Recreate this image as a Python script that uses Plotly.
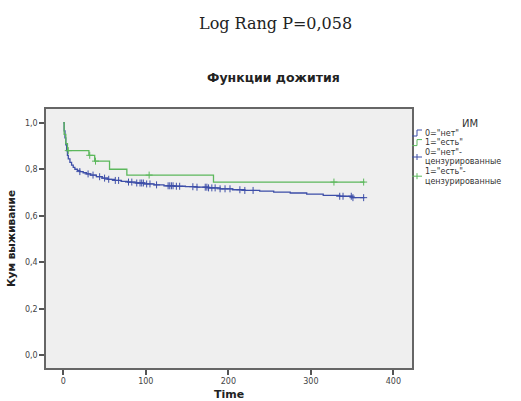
import plotly.graph_objects as go

# Kaplan-Meier step data for the two groups (time, cumulative survival)
no_mi_times = [0, 1, 2, 3, 4, 5, 6, 8, 10, 12, 14, 17, 20, 24, 28, 33, 40, 47, 54, 62, 70, 78,
               88, 98, 110, 122, 134, 148, 162, 176, 190, 205, 220, 238, 255, 275, 295, 315, 335, 350]
no_mi_surv = [1.0, 0.965, 0.935, 0.905, 0.88, 0.86, 0.845, 0.83, 0.818, 0.808, 0.80, 0.795, 0.79,
              0.785, 0.78, 0.775, 0.768, 0.762, 0.757, 0.752, 0.748, 0.745, 0.741, 0.737, 0.733,
              0.729, 0.727, 0.725, 0.723, 0.72, 0.716, 0.712, 0.709, 0.706, 0.702, 0.698, 0.693,
              0.688, 0.684, 0.678]
no_mi_censored = [20, 30, 36, 44, 50, 55, 63, 67, 79, 83, 89, 93, 95, 97, 101, 105, 113, 127, 129,
                  131, 133, 137, 141, 157, 162, 172, 174, 176, 180, 184, 190, 196, 202, 214, 220,
                  230, 335, 339, 349, 351, 364]

mi_times = [0, 1, 3, 5, 31, 38, 56, 77, 182]
mi_surv = [1.0, 0.95, 0.91, 0.88, 0.86, 0.835, 0.80, 0.775, 0.745]
mi_censored = [6, 32, 39, 104, 328, 364]

follow_up_end = 365

x_ticks = [0, 100, 200, 300, 400]
y_ticks = [0.0, 0.2, 0.4, 0.6, 0.8, 1.0]

BLUE = "#3d4ea8"
GREEN = "#5cb85c"
FONT = "DejaVu Sans"


def surv_at(times, surv, t):
    val = surv[0]
    for ti, si in zip(times, surv):
        if ti <= t:
            val = si
    return val


fig = go.Figure()

for times, surv, cens, color in [
    (no_mi_times, no_mi_surv, no_mi_censored, BLUE),
    (mi_times, mi_surv, mi_censored, GREEN),
]:
    fig.add_trace(go.Scatter(
        x=times + [follow_up_end], y=surv + [surv[-1]],
        mode="lines", line=dict(color=color, width=1.3, shape="hv"),
        showlegend=False, hoverinfo="skip"))
    fig.add_trace(go.Scatter(
        x=cens, y=[surv_at(times, surv, t) for t in cens],
        mode="markers",
        marker=dict(symbol="cross-thin", size=5, line=dict(color=color, width=1)),
        showlegend=False, hoverinfo="skip"))

# plot area in pixels
L, R, T, B = 46, 412, 109, 368


def px(x):
    return (x - L) / (R - L)


def py(y):
    return (B - y) / (B - T)


annotations = [
    dict(text="Log Rang P=0,058", x=px(275), y=py(23), xref="paper", yref="paper",
         yanchor="middle", showarrow=False,
         font=dict(family="DejaVu Serif", size=16, color="#222")),
    dict(text="<b>Функции дожития</b>", x=px(273), y=py(77), xref="paper", yref="paper",
         yanchor="middle", showarrow=False, font=dict(family=FONT, size=12.5, color="#222")),
    dict(text="ИМ", x=px(480), y=py(123), xref="paper", yref="paper",
         yanchor="middle", showarrow=False, font=dict(family=FONT, size=10, color="#333")),
]

# legend: (text lines with their centres), glyph centre, colour, glyph kind
legend_rows = [
    ([('0="нет"', 133.0)], 133.0, BLUE, "step"),
    ([('1="есть"', 142.6)], 142.6, GREEN, "step"),
    ([('0="нет"-', 152.2), ("цензурированные", 161.8)], 157.0, BLUE, "cens"),
    ([('1="есть"-', 171.4), ("цензурированные", 181.0)], 176.2, GREEN, "cens"),
]

shapes = []
for lines, yc, color, kind in legend_rows:
    for text, yl in lines:
        annotations.append(dict(
            text=text, x=px(424), y=py(yl), xref="paper", yref="paper", xanchor="left",
            yanchor="middle", showarrow=False, borderpad=0,
            font=dict(family=FONT, size=8, color="#333")))
    if kind == "step":
        path = "M {} {} L {} {} L {} {} L {} {}".format(
            px(412), py(yc + 3), px(417), py(yc + 3), px(417), py(yc - 3), px(422), py(yc - 3))
        shapes.append(dict(type="path", path=path, xref="paper", yref="paper",
                           line=dict(color=color, width=1)))
    else:
        shapes.append(dict(type="line", x0=px(412), x1=px(422), y0=py(yc), y1=py(yc),
                           xref="paper", yref="paper", line=dict(color=color, width=1)))
        shapes.append(dict(type="line", x0=px(417), x1=px(417), y0=py(yc - 3), y1=py(yc + 3),
                           xref="paper", yref="paper", line=dict(color=color, width=1)))

fig.update_layout(
    width=521, height=401,
    margin=dict(l=L, r=521 - R, t=T, b=401 - B, autoexpand=False),
    paper_bgcolor="white", plot_bgcolor="#efefef",
    separators=", ",
    showlegend=False,
    annotations=annotations, shapes=shapes,
    font=dict(family=FONT, size=8, color="#444"),
)

fig.update_xaxes(
    range=[-21, 422.6], tickvals=x_ticks, showgrid=False, zeroline=False, automargin=False,
    ticks="outside", ticklen=5, tickcolor="#555", tickwidth=1.5,
    showline=True, linecolor="#666", linewidth=1.5, mirror=True,
    title=dict(text="<b>Time</b>", font=dict(family=FONT, size=11, color="#222"), standoff=5),
)
fig.update_yaxes(
    range=[-0.054, 1.059], tickvals=y_ticks, tickformat=".1f", showgrid=False, zeroline=False,
    automargin=False,
    ticks="outside", ticklen=5, tickcolor="#555", tickwidth=1.5,
    showline=True, linecolor="#666", linewidth=1.5, mirror=True,
    title=dict(text="<b>Кум выживание</b>", font=dict(family=FONT, size=10.5, color="#222"),
               standoff=7),
)

fig.write_html("out.html")
